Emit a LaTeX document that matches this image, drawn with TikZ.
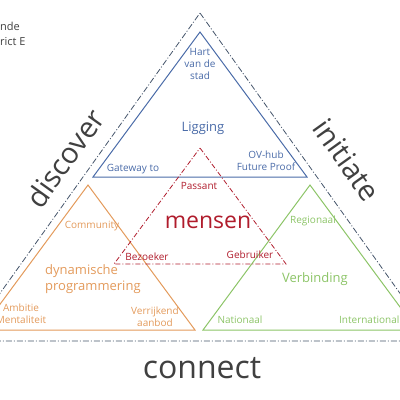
\documentclass[tikz,border=0pt]{standalone}
\usepackage{fontspec}
\setmainfont{Open Sans}
\usetikzlibrary{positioning}
\definecolor{FrameSlate}{HTML}{44546A}
\definecolor{TextDark}{HTML}{404040}
\definecolor{LigBlue}{HTML}{4A6BA8}
\definecolor{MensRed}{HTML}{B01C2C}
\definecolor{ProgOrange}{HTML}{E39A5B}
\definecolor{VerbGreen}{HTML}{8CC467}
\tikzset{
  tri/.style={line width=1pt,line join=miter},
  frame/.style={draw=FrameSlate,line width=.8pt,dash pattern=on 6pt off 2pt on 1pt off 2pt},
  mensframe/.style={draw=MensRed,line width=.8pt,dash pattern=on 5pt off 2pt on 1pt off 2pt},
  small/.style={inner sep=0pt,align=center,font=\fontsize{10}{12}\selectfont},
  mid/.style={inner sep=0pt,align=center,font=\fontsize{13}{16}\selectfont},
  big/.style={inner sep=0pt,font=\fontsize{29}{34}\selectfont,text=TextDark}
}
\begin{document}
\begin{tikzpicture}[x=1pt,y=-1pt]
  \useasboundingbox (0,0) rectangle (400,400);
  \clip (0,0) rectangle (400,400);

  % outer frame and the four triangles
  \draw[frame] (200,13) -- (434,341) -- (-34,341) -- cycle;
  \draw[tri,draw=LigBlue] (200,32) -- (307,177) -- (93,177) -- cycle;
  \draw[tri,draw=ProgOrange] (88,185) -- (195,330) -- (-19,330) -- cycle;
  \draw[tri,draw=VerbGreen] (310,185) -- (417,330) -- (203,330) -- cycle;
  \draw[mensframe] (200,148) -- (286,264) -- (114,264) -- cycle;

  \node[small,align=left,anchor=west,text=TextDark,font=\fontsize{11}{15}\selectfont] (corner) at (0,34) {nde\\rict E};

  \node[big,rotate=54.5] (discover) at (65,158) {discover};
  \node[big,rotate=-54.5] (initiate) at (347,160) {initiate};
  \node[big,anchor=base,font=\fontsize{32}{36}\selectfont] (connect) at (202,378) {connect};

  % Ligging
  \node[small,text=LigBlue] (hart) at (200,64) {Hart\\van de\\stad};
  \node[mid,text=LigBlue] (ligging) at (203,128) {Ligging};
  \node[small,text=LigBlue] (gateway) at (133,169) {Gateway to};
  \node[small,text=LigBlue] (ovhub) at (266,161) {OV-hub\\Future Proof};

  % mensen
  \node[small,text=MensRed] (passant) at (199,186) {Passant};
  \node[inner sep=0pt,text=MensRed,font=\fontsize{23}{28}\selectfont] (mensen) at (208,222) {mensen};
  \node[small,text=MensRed] (bezoeker) at (147,257) {Bezoeker};
  \node[small,text=MensRed] (gebruiker) at (250,255) {Gebruiker};

  % dynamische programmering
  \node[small,text=ProgOrange] (community) at (92,226) {Community};
  \node[mid,align=left,anchor=west,text=ProgOrange] (dynprog) at (45,279) {dynamische\\programmering};
  \node[small,text=ProgOrange] (ambitie) at (21,314) {Ambitie\\Mentaliteit};
  \node[small,text=ProgOrange] (verrijkend) at (155,317) {Verrijkend\\aanbod};

  % Verbinding
  \node[small,text=VerbGreen] (regionaal) at (313,221) {Regionaal};
  \node[mid,text=VerbGreen] (verbinding) at (315,279) {Verbinding};
  \node[small,text=VerbGreen] (nationaal) at (240,320) {Nationaal};
  \node[small,anchor=west,text=VerbGreen] (internationaal) at (339,320) {International};
\end{tikzpicture}
\end{document}
